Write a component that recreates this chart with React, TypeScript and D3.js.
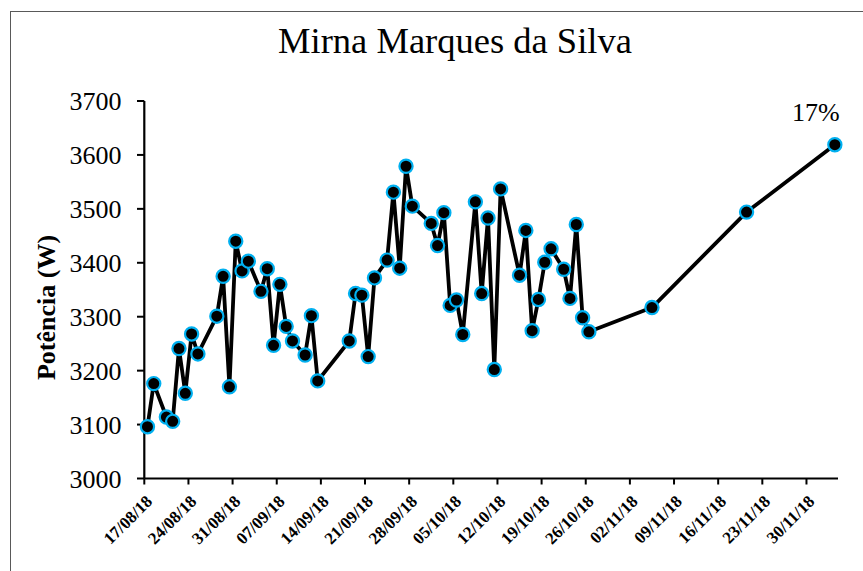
import React from "react";
import * as d3 from "d3";

const dates: string[] = [
  "2018-08-17","2018-08-18","2018-08-20","2018-08-21","2018-08-22","2018-08-23","2018-08-24","2018-08-25",
  "2018-08-28","2018-08-29","2018-08-30","2018-08-31","2018-09-01","2018-09-02","2018-09-04","2018-09-05",
  "2018-09-06","2018-09-07","2018-09-08","2018-09-09","2018-09-11","2018-09-12","2018-09-13","2018-09-18",
  "2018-09-19","2018-09-20","2018-09-21","2018-09-22","2018-09-24","2018-09-25","2018-09-26","2018-09-27",
  "2018-09-28","2018-10-01","2018-10-02","2018-10-03","2018-10-04","2018-10-05","2018-10-06","2018-10-08",
  "2018-10-09","2018-10-10","2018-10-11","2018-10-12","2018-10-15","2018-10-16","2018-10-17","2018-10-18",
  "2018-10-19","2018-10-20","2018-10-22","2018-10-23","2018-10-24","2018-10-25","2018-10-26","2018-11-05",
  "2018-11-20","2018-12-04",
];
const values: number[] = [
  3096,3176,3114,3106,3241,3158,3268,3231,
  3301,3375,3170,3440,3385,3403,3347,3389,
  3247,3360,3282,3255,3229,3302,3181,3255,
  3343,3340,3226,3372,3405,3531,3390,3579,
  3505,3473,3432,3493,3321,3331,3267,3513,
  3343,3483,3202,3537,3377,3460,3274,3332,
  3401,3426,3388,3334,3471,3298,3272,3317,
  3494,3619,
];
const tickLabels: string[] = [
  "17/08/18","24/08/18","31/08/18","07/09/18","14/09/18","21/09/18","28/09/18","05/10/18",
  "12/10/18","19/10/18","26/10/18","02/11/18","09/11/18","16/11/18","23/11/18","30/11/18",
];
const yTicks: number[] = [3000, 3100, 3200, 3300, 3400, 3500, 3600, 3700];
const title = "Mirna Marques da Silva";
const yTitle = "Potência (W)";
const endLabel = "17%";

const W = 863;
const H = 571;

function parseLabel(s: string): Date {
  const [d, m, y] = s.split("/").map(Number);
  return new Date(Date.UTC(2000 + y, m - 1, d));
}

export default function App() {
  const x = d3
    .scaleUtc()
    .domain([new Date(Date.UTC(2018, 7, 17)), new Date(Date.UTC(2018, 11, 5))])
    .range([144.3, 838]);
  const y = d3.scaleLinear().domain([3000, 3700]).range([478.5, 101]);
  const half = 12 * 3600 * 1000;
  const pts = dates.map((d, i) => {
    const t = new Date(new Date(d + "T00:00:00Z").getTime() + half);
    return [x(t), y(values[i])] as [number, number];
  });
  const line = d3.line<[number, number]>().x((p) => p[0]).y((p) => p[1]);
  const font = "'Liberation Serif', 'Times New Roman', serif";
  const last = pts[pts.length - 1];

  return (
    <svg width={W} height={H} style={{ position: "absolute", left: 0, top: 0, background: "#fff" }} fontFamily={font}>
      <rect x={10.5} y={11.5} width={W + 10} height={H + 10} fill="#fff" stroke="#595959" strokeWidth={1} />
      <text x={455} y={53} textAnchor="middle" fontSize={36.5} fill="#000">{title}</text>
      {/* y axis */}
      <line x1={144.3} x2={144.3} y1={y(3700)} y2={y(3000)} stroke="#000" strokeWidth={2.2} />
      {yTicks.map((t) => (
        <g key={t}>
          <line x1={137} x2={144.3} y1={y(t)} y2={y(t)} stroke="#000" strokeWidth={2} />
          <text x={121.5} y={y(t) + 9} textAnchor="end" fontSize={26} fill="#000">{t}</text>
        </g>
      ))}
      <text
        transform={`translate(55,${(233 + 382) / 2}) rotate(-90)`}
        textAnchor="middle"
        fontSize={26}
        fontWeight="bold"
        fill="#000"
      >
        {yTitle}
      </text>
      {/* x axis */}
      <line x1={144.3} x2={838} y1={y(3000)} y2={y(3000)} stroke="#000" strokeWidth={2.2} />
      {tickLabels.map((l) => {
        const tx = x(parseLabel(l));
        return (
          <g key={l}>
            <line x1={tx} x2={tx} y1={y(3000)} y2={y(3000) + 6} stroke="#000" strokeWidth={2} />
            <text
              transform={`translate(${tx + 9},${y(3000) + 24}) rotate(-45)`}
              textAnchor="end"
              fontSize={17}
              fontWeight="bold"
              fill="#000"
            >
              {l}
            </text>
          </g>
        );
      })}
      <path d={line(pts) || ""} fill="none" stroke="#000" strokeWidth={3.8} strokeLinejoin="round" />
      {pts.map((p, i) => (
        <circle key={i} cx={p[0]} cy={p[1]} r={6.6} fill="#000" stroke="#00B0F0" strokeWidth={2.2} />
      ))}
      <text x={last[0] - 19} y={121} textAnchor="middle" fontSize={26} fill="#000">{endLabel}</text>
    </svg>
  );
}
